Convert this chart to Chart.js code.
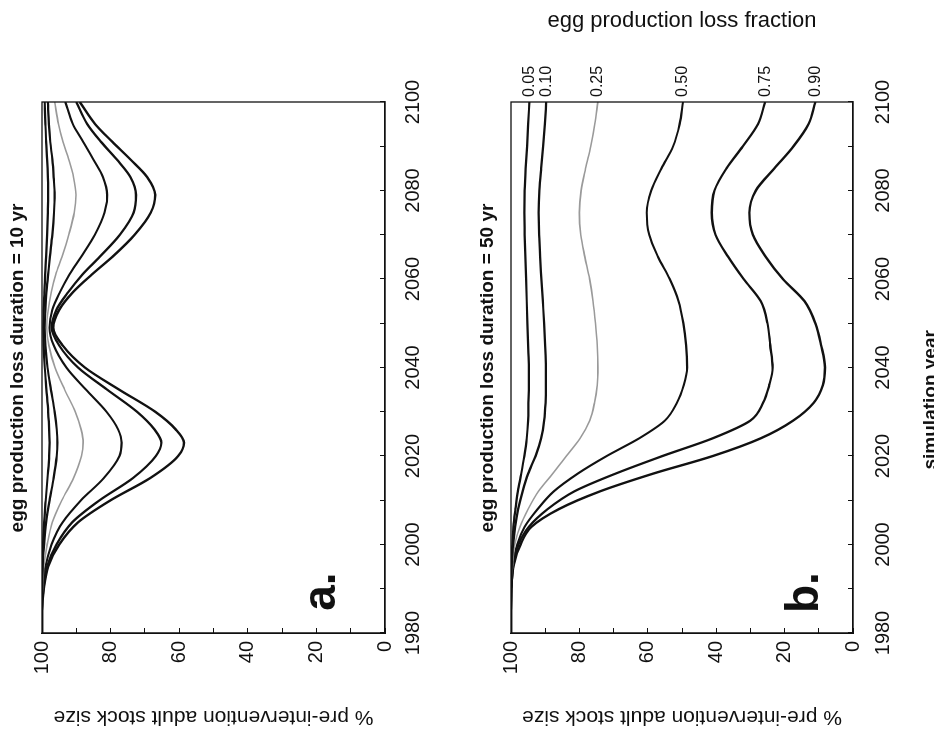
<!DOCTYPE html>
<html>
<head>
<meta charset="utf-8">
<script src="https://cdn.jsdelivr.net/npm/chart.js@4"></script>
<style>
html,body{margin:0;padding:0;background:#fff;overflow:hidden;width:934px;height:736px;}
#page{position:absolute;left:0;top:0;width:736px;height:934px;transform-origin:0 0;transform:translate(0,736px) rotate(-90deg);background:#fff;}
canvas{display:block;}
</style>
</head>
<body>
<div id="page">
<canvas id="ca" width="736" height="467"></canvas>
<canvas id="cb" width="736" height="467"></canvas>
</div>
<script>
// ---------- data ----------
const fractions = ['0.05', '0.10', '0.25', '0.50', '0.75', '0.90'];

const yearsA = [1980,1985,1990,1995,2000,2005,2010,2015,2020,2023,2026,2030,2035,2040,2045,2049,2053,2057,2061,2065,2070,2075,2079,2083,2087,2091,2095,2100];
const a05 = [100,100,100,99.9,99.7,99.4,98.9,98.4,97.9,97.8,97.9,98.2,98.7,99.2,99.5,99.6,99.5,99.3,99.1,98.8,98.5,98.3,98.2,98.3,98.5,98.8,99,99.2];
const a10 = [100,100,100,99.8,99.4,98.8,97.8,96.6,95.7,95.5,95.7,96.3,97.4,98.4,99,99.2,99,98.7,98.2,97.7,97,96.5,96.3,96.6,97,97.6,98,98.3];
const a25 = [100,100,99.9,99.5,98.5,97,94.2,90.8,88.5,88,88.6,90.3,93.4,96.2,98,98.6,98.2,97.3,96,94.2,92.2,90.6,90.1,90.8,92.2,93.9,95.2,96.3];
const a50 = [100,100,99.7,99,97.2,94,88.6,82,77.4,76.8,77.8,81.2,87.2,92.9,96.6,97.8,97,94.8,92,88.6,84.6,81.8,81,82.2,85,88,91,93.2];
const a75 = [100,100,99.6,98.5,95.8,91.2,83.2,73.5,66.8,65.2,67.2,72.3,81,89.5,95,97.2,95.8,92.4,88.2,83.2,77.3,73.3,72.6,74.2,78.2,82.8,86.8,90];
const a90 = [100,100,99.5,98.2,95,89.5,80,68.5,60.3,58.6,61,67,77.5,87.5,94,96.7,95,91,85.5,79.5,73,68.3,67,69.3,74.2,79.5,84.5,89];

const yearsB = [1980,1985,1990,1995,2000,2004,2008,2012,2016,2020,2024,2028,2032,2036,2040,2045,2050,2055,2060,2065,2070,2075,2080,2085,2090,2095,2100];
const b05 = [100,100,100,99.9,99.6,99.3,98.7,98,97,96.1,95.4,95,94.9,94.8,94.8,95,95.2,95.4,95.6,95.8,96,96.1,96,95.7,95.3,95,94.6];
const b10 = [100,100,100,99.8,99.4,98.8,97.9,96.6,95,92.8,91.2,90.3,89.9,89.8,89.8,90,90.3,90.7,91.1,91.5,91.8,91.9,91.7,91.2,90.6,90.1,89.7];
const b25 = [100,100,100,99.6,98.9,97.4,95,92,87.8,83.8,79.8,77,75.6,74.8,74.6,74.8,75.3,76,77,78.4,79.6,80,79.5,78.2,76.7,75.5,74.6];
const b50 = [100,100,99.9,99.5,98.2,96,92.2,87.5,80.5,72,62.5,55,51.5,49.5,48.5,48.8,49.6,51,53.6,57,59.6,60.3,59,56,52.6,50.7,49.7];
const b75 = [100,100,99.9,99.4,97.8,94.8,89.3,81.5,69.5,55.7,41,30,26.3,24.5,23.5,24.2,25,27,32,36.5,40.2,41.3,40.5,37,32.2,27.8,25.7];
const b90 = [100,100,99.9,99.3,97.2,94,86,74,58.5,41,27,17.5,11.5,8.8,8.2,9.3,11,14.2,20.5,25.5,29.3,30.3,28.4,23,17.4,13,11];

const titleA = 'egg production loss duration = 10 yr';
const titleB = 'egg production loss duration = 50 yr';
const yTitle = '% pre-intervention adult stock size';
const xTitle = 'simulation year';
const fractionTitle = 'egg production loss fraction';

// ---------- styling ----------
const FONT = "'Liberation Sans', Arial, Helvetica, sans-serif";
const INK = '#111';
const lineColors = [INK, INK, '#9a9a9a', INK, INK, INK];
const lineWidths = [2.2, 2.2, 1.6, 2.1, 2.3, 2.4];

Chart.defaults.font.family = FONT;
Chart.defaults.color = INK;

function buildDatasets(years, series) {
  return series.map((vals, k) => ({
    label: fractions[k],
    data: years.map((yr, i) => ({x: yr, y: vals[i]})),
    borderColor: lineColors[k],
    borderWidth: lineWidths[k],
    pointRadius: 0,
    fill: false,
    cubicInterpolationMode: 'monotone',
    xAxisID: 'x',
    yAxisID: 'y'
  }));
}

const boxPlugin = {
  id: 'box',
  afterDatasetsDraw(chart) {
    const {ctx, chartArea: a} = chart;
    ctx.save();
    ctx.strokeStyle = INK;
    ctx.lineWidth = 1.3;
    ctx.strokeRect(a.left, a.top, a.right - a.left, a.bottom - a.top);
    ctx.restore();
  }
};

const panelTag = {
  id: 'panelTag',
  afterDraw(chart, args, o) {
    const {ctx} = chart;
    const x = chart.scales.x.getPixelForValue(o.year);
    const y = chart.scales.y.getPixelForValue(o.value);
    ctx.save();
    ctx.fillStyle = INK;
    ctx.font = 'bold 46px ' + FONT;
    ctx.textAlign = 'left';
    ctx.textBaseline = 'alphabetic';
    ctx.fillText(o.text, x, y);
    if (o.xTitle) {
      const tx = chart.scales.x.getPixelForValue(o.xTitle.year);
      const ty = chart.chartArea.bottom + o.xTitle.offset;
      ctx.font = 'bold 19px ' + FONT;
      ctx.textAlign = 'center';
      ctx.textBaseline = 'middle';
      ctx.fillText(o.xTitle.text, tx, ty);
    }
    ctx.restore();
  }
};

function makeChart(id, years, series, cfg) {
  const finalVals = series.map(s => s[s.length - 1]);
  const rightAxis = cfg.fractionAxis ? {
    type: 'linear', position: 'right', min: 0, max: 100,
    afterFit(s) { s.width = 102; },
    afterBuildTicks(s) { s.ticks = finalVals.map(v => ({value: v})); },
    ticks: {autoSkip: false, padding: 5, font: {size: 16}, color: INK,
            callback: (v, i) => fractions[i]},
    grid: {display: false, drawTicks: false},
    border: {display: false},
    title: {display: true, text: fractionTitle, font: {size: 22}, color: INK, padding: {top: 8, bottom: 0}}
  } : {
    type: 'linear', position: 'right', min: 0, max: 100,
    afterFit(s) { s.width = 102; },
    ticks: {display: false},
    grid: {display: false, drawTicks: false},
    border: {display: false}
  };

  return new Chart(document.getElementById(id), {
    type: 'line',
    data: {datasets: buildDatasets(years, series)},
    options: {
      responsive: false,
      animation: false,
      devicePixelRatio: 1,
      layout: {padding: 0},
      scales: {
        x: {
          type: 'linear', position: 'bottom', min: 1980, max: 2100,
          afterFit(s) { s.height = cfg.xAxisH; },
          ticks: {stepSize: 10, autoSkip: false, maxRotation: 0, padding: cfg.xPad,
                  font: {size: 20}, color: INK,
                  callback: v => (v % 20 === 0 ? String(v) : '')},
          grid: {drawOnChartArea: false, tickLength: -5, color: INK, lineWidth: 1},
          border: {color: INK, width: 1.3}
        },
        y: {
          type: 'linear', position: 'left', min: 0, max: 100,
          afterFit(s) { s.width = 103; },
          ticks: {stepSize: 10, autoSkip: false, padding: 13, font: {size: 20}, color: INK,
                  callback: v => (v % 20 === 0 ? String(v) : '')},
          grid: {drawOnChartArea: false, tickLength: -5, color: INK, lineWidth: 1},
          border: {color: INK, width: 1.3},
          title: {display: true, text: yTitle, color: INK, font: {size: 21},
                  padding: {top: 7, bottom: 0}}
        },
        yR: rightAxis
      },
      plugins: {
        legend: {display: false},
        tooltip: {enabled: false},
        title: {display: true, text: cfg.title, color: INK,
                font: {size: 19, weight: 'bold'}, padding: cfg.titlePad},
        panelTag: cfg.tag
      }
    },
    plugins: [boxPlugin, panelTag]
  });
}

makeChart('ca', yearsA, [a05, a10, a25, a50, a75, a90], {
  title: titleA, titlePad: {top: 6.6, bottom: 12.6}, xAxisH: 82, xPad: 21,
  fractionAxis: false,
  tag: {text: 'a.', year: 1985, value: 14.6}
});
makeChart('cb', yearsB, [b05, b10, b25, b50, b75, b90], {
  title: titleB, titlePad: {top: 9.6, bottom: 11.6}, xAxisH: 81, xPad: 23,
  fractionAxis: true,
  tag: {text: 'b.', year: 1984.5, value: 10.2,
        xTitle: {text: xTitle, year: 2032.7, offset: 78}}
});
</script>
</body>
</html>
